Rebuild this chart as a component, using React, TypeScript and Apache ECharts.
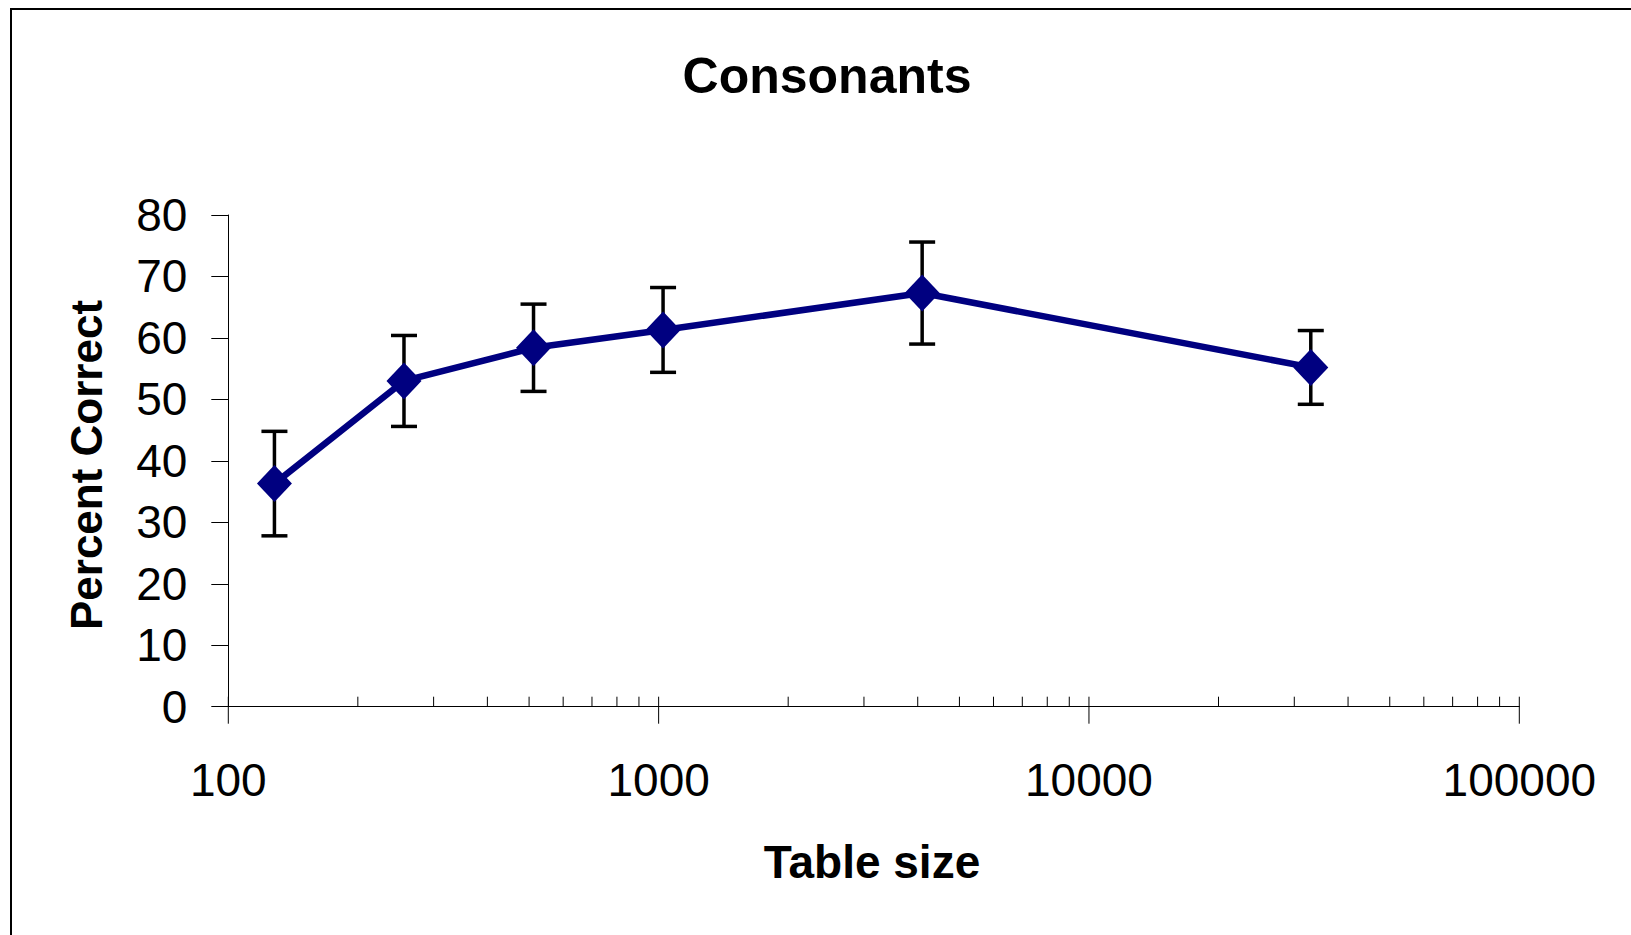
import { useEffect, useRef } from "react";
import * as echarts from "echarts";

// Consonant recognition vs. lookup-table size
const tableSizes = [128, 256, 512, 1024, 4096, 32768];
const percentCorrect = [36.3, 53.0, 58.4, 61.3, 67.3, 55.2];
const errorMargins = [8.5, 7.4, 7.1, 6.9, 8.3, 6.0];

// Log-axis tick structure: decade marks and the 2..9 minor marks in between
const decades = [100, 1000, 10000, 100000];
const minorSteps = [2, 3, 4, 5, 6, 7, 8, 9];

const FONT = "Arial, 'Liberation Sans', Helvetica, sans-serif";
const NAVY = "#000080";

export default function App() {
  const ref = useRef<HTMLDivElement>(null);

  useEffect(() => {
    if (!ref.current) return;
    const chart = echarts.init(ref.current, null, { renderer: "svg" });

    const tickData = [
      ...decades.map((d) => [d, 0, 1]),
      ...decades.slice(0, -1).flatMap((d) => minorSteps.map((s) => [d * s, 0, 0])),
    ];
    const pointData = tableSizes.map((x, i) => [x, percentCorrect[i]]);
    const errorData = tableSizes.map((x, i) => [x, percentCorrect[i], errorMargins[i]]);

    chart.setOption({
      animation: false,
      backgroundColor: "#ffffff",
      grid: { left: 228.3, right: 111.7, top: 215, bottom: 228.3, containLabel: false },
      xAxis: {
        type: "log",
        logBase: 10,
        min: 100,
        max: 100000,
        axisLine: { show: true, lineStyle: { color: "#000", width: 1 } },
        axisTick: { show: false },
        splitLine: { show: false },
        axisLabel: {
          color: "#000",
          fontFamily: FONT,
          fontSize: 46,
          margin: 50,
          formatter: (v: number) => String(Math.round(v)),
        },
      },
      yAxis: {
        type: "value",
        min: 0,
        max: 80,
        interval: 10,
        axisLine: { show: true, lineStyle: { color: "#000", width: 1 } },
        axisTick: { show: true, inside: false, length: 17, lineStyle: { color: "#000", width: 1 } },
        splitLine: { show: false },
        axisLabel: { color: "#000", fontFamily: FONT, fontSize: 46, margin: 41 },
      },
      graphic: [
        {
          type: "rect",
          silent: true,
          shape: { x: 11, y: 9, width: 1700, height: 1000 },
          style: { fill: "none", stroke: "#000", lineWidth: 2 },
        },
        {
          type: "text",
          x: 827,
          y: 75.5,
          style: {
            text: "Consonants",
            font: `bold 50px ${FONT}`,
            fill: "#000",
            textAlign: "center",
            textVerticalAlign: "middle",
          },
        },
        {
          type: "text",
          x: 872,
          y: 862,
          style: {
            text: "Table size",
            font: `bold 46px ${FONT}`,
            fill: "#000",
            textAlign: "center",
            textVerticalAlign: "middle",
          },
        },
        {
          type: "text",
          x: 86,
          y: 465,
          rotation: Math.PI / 2,
          style: {
            text: "Percent Correct",
            font: `bold 44px ${FONT}`,
            fill: "#000",
            textAlign: "center",
            textVerticalAlign: "middle",
          },
        },
      ],
      series: [
        {
          name: "ticks",
          type: "custom",
          silent: true,
          z: 1,
          data: tickData,
          renderItem: (_params: any, api: any) => {
            const p = api.coord([api.value(0), 0]);
            const major = api.value(2) === 1;
            return {
              type: "line",
              shape: { x1: p[0], y1: p[1] - 10, x2: p[0], y2: p[1] + (major ? 17 : 0) },
              style: { stroke: "#000", lineWidth: 1 },
            };
          },
        },
        {
          name: "error",
          type: "custom",
          silent: true,
          z: 2,
          data: errorData,
          renderItem: (_params: any, api: any) => {
            const x = api.value(0);
            const m = api.value(1);
            const e = api.value(2);
            const top = api.coord([x, m + e]);
            const bot = api.coord([x, m - e]);
            const cap = 13;
            const style = { stroke: "#000", lineWidth: 3.5 };
            return {
              type: "group",
              children: [
                { type: "line", shape: { x1: top[0], y1: top[1], x2: bot[0], y2: bot[1] }, style },
                { type: "line", shape: { x1: top[0] - cap, y1: top[1], x2: top[0] + cap, y2: top[1] }, style },
                { type: "line", shape: { x1: bot[0] - cap, y1: bot[1], x2: bot[0] + cap, y2: bot[1] }, style },
              ],
            };
          },
        },
        {
          name: "Consonants",
          type: "line",
          z: 3,
          data: pointData,
          symbol: "diamond",
          symbolSize: [35, 37],
          lineStyle: { color: NAVY, width: 6.5 },
          itemStyle: { color: NAVY },
        },
      ],
    });

    return () => chart.dispose();
  }, []);

  return (
    <div
      ref={ref}
      style={{ position: "absolute", left: 0, top: 0, width: 1631, height: 935, background: "#fff" }}
    />
  );
}
